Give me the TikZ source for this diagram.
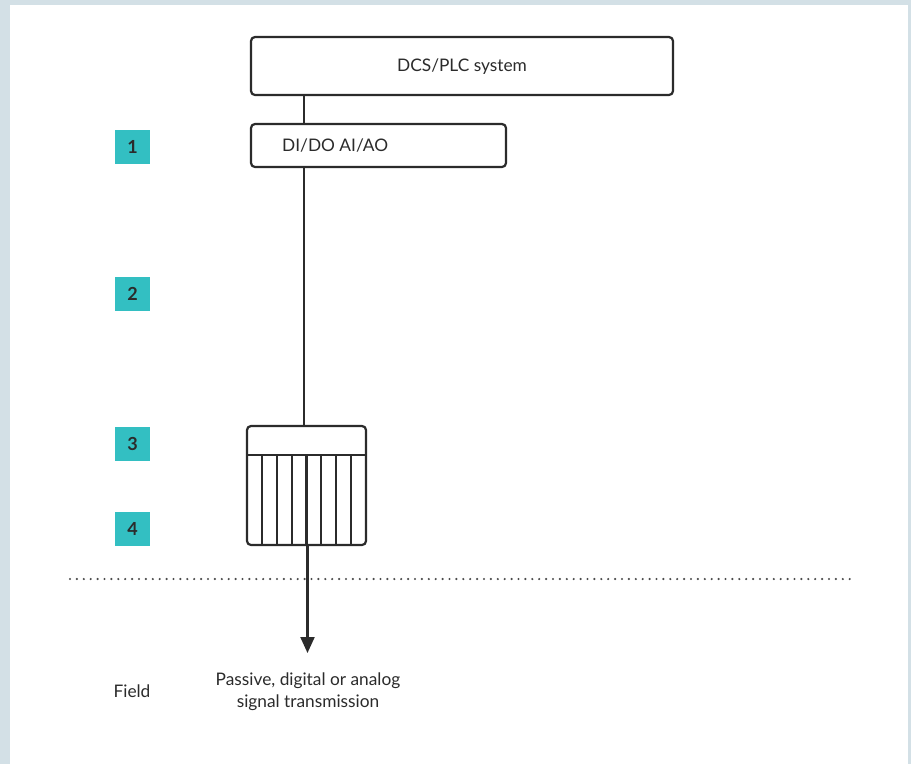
\documentclass[tikz,border=0pt]{standalone}
\usepackage{fontspec}
\setmainfont{Lato}
\usetikzlibrary{arrows.meta}
\definecolor{frameblue}{HTML}{D3E0E6}
\definecolor{teal}{HTML}{33BFC2}
\definecolor{ink}{HTML}{2B2B2B}
\tikzset{
  x=1pt, y=-1pt,
  box/.style={draw=ink, line width=2.2pt, rounded corners=4pt, fill=white},
  numbox/.style={fill=teal, minimum width=35pt, minimum height=34pt, inner sep=0pt, font=\fontsize{18}{20}\selectfont\bfseries, text=ink},
  wire/.style={draw=ink, line width=2.2pt},
  lbl/.style={font=\fontsize{17.3}{22}\selectfont, text=ink, inner sep=0pt}
}
\begin{document}
\begin{tikzpicture}
\useasboundingbox (0,0) rectangle (911,764);
\fill[frameblue] (0,0) rectangle (911,764);
\fill[white] (10,5) rectangle (908,764);
% boxes
\draw[box] (251,37) rectangle (673,95);
\node[lbl] (dcs) at (462,67) {DCS/PLC system};
\coordinate (dcsb) at (304,95);
\draw[box] (251,124) rectangle (506,167);
\node[lbl, anchor=west] (io) at (282,146) {DI/DO AI/AO};
\coordinate (iot) at (304,124);
\coordinate (iob) at (304,167);
% terminal block
\draw[box] (247,426) rectangle (366,545);
\draw[wire] (247,455) -- (366,455);
\foreach \i in {1,...,7} {
  \draw[wire] ({247+14.875*\i},455) -- ({247+14.875*\i},545);
}
\coordinate (tbt) at (304,426);
\coordinate (tbb) at (307.5,545);
\coordinate (arr) at (307.5,653);
\draw[wire] (dcsb) -- (iot);
\draw[wire] (iob) -- (tbt);
\draw[wire, -{Triangle[length=16pt,width=14pt]}] (tbb) -- (arr);
% dotted separator
\foreach \k in {0,...,113} {
  \fill[ink!85] ({70+6.9*\k},579) circle (1.2pt);
}
% numbers
\node[numbox] (n1) at (132.5,146.5) {1};
\node[numbox] (n2) at (132.5,294) {2};
\node[numbox] (n3) at (132.5,443.5) {3};
\node[numbox] (n4) at (132.5,528.5) {4};
% labels
\node[lbl] (field) at (132,691) {Field};
\node[lbl, align=center] (sig) at (308,692) {Passive, digital or analog\\signal transmission};
\end{tikzpicture}
\end{document}
